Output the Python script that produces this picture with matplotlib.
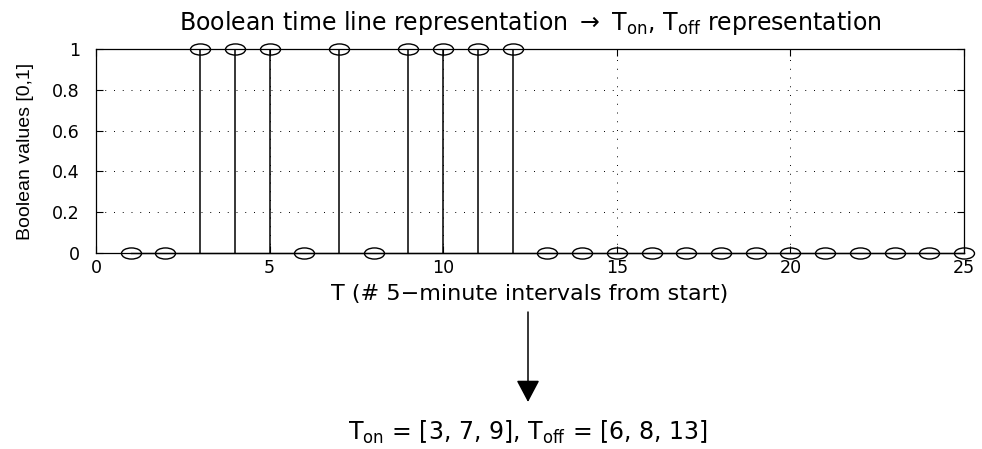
"""
Boolean time line as a stem plot, with the derived T_on / T_off lists below it.
"""

import matplotlib
matplotlib.use("Agg")
import matplotlib.pyplot as plt
from matplotlib.path import Path
from matplotlib.transforms import Affine2D

# Boolean state per 5-minute interval
intervals = list(range(1, 26))
states = [0, 0, 1, 1, 1, 0, 1, 0, 1, 1, 1, 1,
          0, 0, 0, 0, 0, 0, 0, 0, 0, 0, 0, 0, 0]

x_ticks = [0, 5, 10, 15, 20, 25]
y_ticks = [0, 0.2, 0.4, 0.6, 0.8, 1]

plt.rcParams["font.family"] = ["DejaVu Sans"]
plt.rcParams["mathtext.fontset"] = "dejavusans"

W, H = 982, 449  # figure size in pixels


def on_off_times(t, s):
    """Intervals where the state switches on / off."""
    t_on, t_off = [], []
    prev = 0
    for ti, si in zip(t, s):
        if si and not prev:
            t_on.append(ti)
        elif prev and not si:
            t_off.append(ti)
        prev = si
    return t_on, t_off


t_on, t_off = on_off_times(intervals, states)

# squashed circle marker, like the stretched original
ellipse = Path.unit_circle().transformed(Affine2D().scale(1.8, 1.0))

fig = plt.figure(figsize=(W / 100, H / 100), dpi=100)
ax = fig.add_axes([96 / W, 1 - 253 / H, 868 / W, 204 / H])

markers, stems, base = ax.stem(intervals, states, linefmt="k-", markerfmt="ko", basefmt="k-")
markers.set_marker(ellipse)
markers.set_markersize(14.4)
markers.set_markerfacecolor("none")
markers.set_markeredgecolor("black")
markers.set_markeredgewidth(1.0)
markers.set_clip_on(False)
markers.set_zorder(4)
stems.set_linewidth(1.1)
base.set_linewidth(1.0)
base.set_clip_on(False)

ax.set_xlim(0, 25)
ax.set_ylim(0, 1)
ax.set_xticks(x_ticks)
ax.set_yticks(y_ticks)
ax.set_xticklabels([f"{v:g}" for v in x_ticks])
ax.set_yticklabels([f"{v:g}" for v in y_ticks])
ax.tick_params(direction="in", top=True, right=True, length=5, width=0.8,
               labelsize=12.6)
ax.tick_params(axis="x", pad=4)
ax.tick_params(axis="y", pad=11.5)
ax.grid(True, color="black", linestyle=(0, (1, 8)), linewidth=0.7)
for sp in ax.spines.values():
    sp.set_linewidth(0.9)

ax.set_title(r"Boolean time line representation $\rightarrow$ T$_{\mathrm{on}}$, T$_{\mathrm{off}}$ representation",
             fontsize=17, pad=14)

ax.set_xlabel("T (# 5\u2212minute intervals from start)", fontsize=16)
ax.xaxis.set_label_coords(0.5, -(300 - 253) / 204)
ax.xaxis.label.set_va("baseline")

ax.set_ylabel("Boolean values [0,1]", fontsize=14, family=["Liberation Sans", "DejaVu Sans"])
ax.yaxis.set_label_coords((26 - 96) / 868, 0.5)
ax.yaxis.label.set_va("center")
ax.yaxis.label.set_ha("center")

# arrow and the resulting lists
ax.annotate("", xy=(528 / W, 1 - 402 / H), xytext=(528 / W, 1 - 312 / H),
            xycoords="figure fraction", textcoords="figure fraction",
            arrowprops=dict(arrowstyle="-|>,head_length=0.68,head_width=0.36",
                            mutation_scale=20, color="black", lw=1.1,
                            shrinkA=0, shrinkB=0))

on_txt = ", ".join(str(v) for v in t_on)
off_txt = ", ".join(str(v) for v in t_off)
fig.text(528 / W, 1 - 440 / H,
         rf"T$_{{\mathrm{{on}}}}$ = [{on_txt}], T$_{{\mathrm{{off}}}}$ = [{off_txt}]",
         ha="center", va="baseline", fontsize=17)

fig.savefig("out.png", dpi=100)
plt.close(fig)
